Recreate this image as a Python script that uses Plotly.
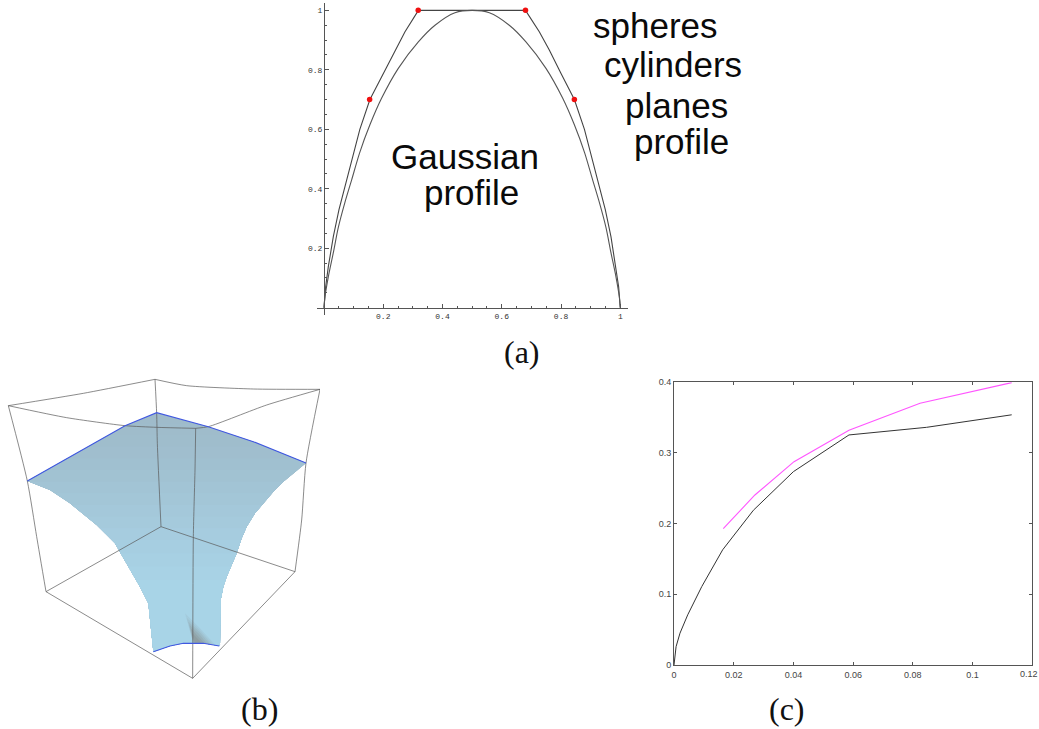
import plotly.graph_objects as go

W, H = 1039, 729

# ---------- panel (a): profiles ----------
a_outer_x = [0, 0.0056, 0.0146, 0.0315, 0.0506, 0.0709, 0.095, 0.121, 0.155, 0.2, 0.2396, 0.2734, 0.3186,
             0.68, 0.7266, 0.7604, 0.8, 0.845, 0.879, 0.905, 0.9291, 0.9494, 0.9685, 0.9854, 0.9944, 1]
a_outer_y = [0, 0.0707, 0.138, 0.239, 0.33, 0.41, 0.5, 0.6, 0.7, 0.788, 0.867, 0.928, 1,
             1, 0.928, 0.867, 0.788, 0.7, 0.6, 0.5, 0.41, 0.33, 0.239, 0.138, 0.0707, 0]
a_inner_x = [0, 0.0034, 0.0146, 0.0315, 0.0484, 0.0709, 0.0934, 0.12, 0.155, 0.1947, 0.2508, 0.3184, 0.3746, 0.442, 0.5,
             0.558, 0.6254, 0.6816, 0.7492, 0.8053, 0.845, 0.88, 0.9066, 0.9291, 0.9516, 0.9685, 0.9854, 0.9966, 1]
a_inner_y = [0, 0.037, 0.104, 0.185, 0.27, 0.355, 0.43, 0.52, 0.615, 0.705, 0.805, 0.894, 0.95, 0.992, 1,
             0.992, 0.95, 0.894, 0.805, 0.705, 0.615, 0.52, 0.43, 0.355, 0.27, 0.185, 0.104, 0.037, 0]
a_point_x = [0.154, 0.318, 0.68, 0.845]
a_point_y = [0.7, 1, 1, 0.7]
a_xticks = [0.2, 0.4, 0.6, 0.8, 1]
a_yticks = [0.2, 0.4, 0.6, 0.8, 1]
a_xticklabels = ["0.2", "0.4", "0.6", "0.8", "1"]
a_yticklabels = ["0.2", "0.4", "0.6", "0.8", "1"]
a_minor = [i * 0.05 for i in range(1, 21)]

# ---------- panel (b): wireframe and surface, in picture units ----------
surface_x = [82, 115, 150, 210, 250, 290, 330, 345, 362, 390, 420, 445, 452, 460, 510, 550, 610, 658, 660, 662, 670, 680,
             695, 710, 725, 740, 765, 790, 820, 850, 885, 918, 760, 625, 470, 375, 220]
surface_y = [333, 345, 360, 400, 432, 465, 505, 520, 550, 600, 650, 700, 770, 845, 828, 820, 820, 828, 828, 690, 650, 620,
             585, 550, 505, 470, 430, 400, 365, 335, 305, 279, 215, 170, 128, 167, 255]
band_y = [128, 160, 195, 230, 265, 300, 335, 370, 405, 440, 475, 510, 550, 590, 630]
band_colors = ["#9fbbca", "#9fbccb", "#9fbdcc", "#a0bece", "#a0c0d0", "#a1c2d2", "#a2c4d5", "#a3c6d7",
               "#a4c8da", "#a5cadc", "#a6ccdf", "#a6cee1", "#a7d0e3", "#a8d2e5", "#a8d4e7"]
smudge = [
    ([555, 580, 645, 600], [730, 820, 824, 775], 0.07),
    ([560, 580, 637, 599], [743, 820, 823, 780], 0.08),
    ([565, 580, 630, 598], [755, 820, 822, 785], 0.1),
    ([569, 581, 620, 595], [765, 819, 820, 790], 0.12),
    ([572, 582, 612, 592], [775, 818, 818, 795], 0.14),
    ([576, 584, 604, 590], [788, 818, 818, 802], 0.14),
]
wire = [
    ([25, 250, 465], [107, 70, 28]),
    ([465, 560, 760, 960], [28, 47, 57, 58]),
    ([25, 200, 375, 470, 587], [107, 143, 167, 172, 175]),
    ([587, 625, 800, 960], [175, 170, 105, 58]),
    ([465, 470, 472, 483], [28, 130, 220, 470]),
    ([587, 585, 580, 578], [175, 300, 500, 925]),
    ([25, 82, 110, 138], [107, 333, 500, 665]),
    ([960, 918, 905, 885], [58, 279, 450, 605]),
    ([483, 138], [470, 665]),
    ([483, 885], [470, 605]),
    ([138, 578], [665, 925]),
    ([885, 578], [605, 925]),
]
blue_top_x = [82, 220, 375, 470, 625, 760, 918]
blue_top_y = [333, 255, 167, 128, 170, 215, 279]
blue_bottom_x = [460, 510, 550, 610, 658]
blue_bottom_y = [845, 828, 820, 820, 828]

# ---------- panel (c): curves ----------
c_black_x = [0, 0.0007, 0.002, 0.0046, 0.0093, 0.0163, 0.0266, 0.04, 0.0586, 0.0846, 0.1131]
c_black_y = [0, 0.026, 0.045, 0.071, 0.111, 0.163, 0.219, 0.2736, 0.3255, 0.3363, 0.354]
c_pink_x = [0.0165, 0.0271, 0.0402, 0.0586, 0.0824, 0.1131]
c_pink_y = [0.193, 0.2406, 0.2877, 0.332, 0.3703, 0.3995]
c_xticks = [0, 0.02, 0.04, 0.06, 0.08, 0.1, 0.12]
c_xticklabels = ["0", "0.02", "0.04", "0.06", "0.08", "0.1", ""]
c_last_label = "0.12"
c_yticks = [0, 0.1, 0.2, 0.3, 0.4]
c_yticklabels = ["0", "0.1", "0.2", "0.3", "0.4"]

# ---------- texts ----------
big_labels = [
    ("spheres", 591, 25), ("cylinders", 602, 64), ("planes", 623, 105), ("profile", 632, 141),
    ("Gaussian", 389, 156), ("profile", 422, 193),
]
captions = [("(a)", 522, 352), ("(b)", 259, 709), ("(c)", 787, 709)]


def fx(p):
    return p / W


def fy(p):
    return 1 - p / H


def clip_below(xs, ys, y0):
    """Part of a closed polygon that lies at or below the level y0 (units grow downwards)."""
    out_x, out_y = [], []
    n = len(xs)
    for i in range(n):
        x1, y1, x2, y2 = xs[i], ys[i], xs[(i + 1) % n], ys[(i + 1) % n]
        if y1 >= y0:
            out_x.append(x1)
            out_y.append(y1)
        if (y1 >= y0) != (y2 >= y0):
            t = (y0 - y1) / (y2 - y1)
            out_x.append(x1 + t * (x2 - x1))
            out_y.append(y0)
    return out_x + out_x[:1], out_y + out_y[:1]


fig = go.Figure()

# (a)
fig.add_trace(go.Scatter(x=a_outer_x, y=a_outer_y, mode="lines", line=dict(color="#444444", width=1.1),
                         xaxis="x", yaxis="y", showlegend=False))
fig.add_trace(go.Scatter(x=a_inner_x, y=a_inner_y, mode="lines",
                         line=dict(color="#555555", width=1.1, shape="spline", smoothing=0.8),
                         xaxis="x", yaxis="y", showlegend=False))
fig.add_trace(go.Scatter(x=a_point_x, y=a_point_y, mode="markers", marker=dict(color="#f01010", size=5.5),
                         xaxis="x", yaxis="y", showlegend=False))

# (b)
for y0, col in zip(band_y, band_colors):
    bx, by = clip_below(surface_x, surface_y, y0)
    fig.add_trace(go.Scatter(x=bx, y=by, mode="lines", fill="toself", fillcolor=col, line=dict(width=0),
                             xaxis="x2", yaxis="y2", showlegend=False, hoverinfo="skip"))
for sx, sy, op in smudge:
    fig.add_trace(go.Scatter(x=sx + sx[:1], y=sy + sy[:1], mode="lines", fill="toself",
                             fillcolor=f"rgba(120,105,100,{op})", line=dict(width=0),
                             xaxis="x2", yaxis="y2", showlegend=False, hoverinfo="skip"))
for wx, wy in wire:
    fig.add_trace(go.Scatter(x=wx, y=wy, mode="lines", line=dict(color="rgba(90,90,90,0.7)", width=1, shape="spline", smoothing=0.6),
                             xaxis="x2", yaxis="y2", showlegend=False, hoverinfo="skip"))
for bx, by in ((blue_top_x, blue_top_y), (blue_bottom_x, blue_bottom_y)):
    fig.add_trace(go.Scatter(x=bx, y=by, mode="lines", line=dict(color="#4058e0", width=1.1),
                             xaxis="x2", yaxis="y2", showlegend=False, hoverinfo="skip"))

# (c)
fig.add_trace(go.Scatter(x=c_black_x, y=c_black_y, mode="lines", line=dict(color="#333333", width=1),
                         xaxis="x3", yaxis="y3", showlegend=False))
fig.add_trace(go.Scatter(x=c_pink_x, y=c_pink_y, mode="lines", line=dict(color="#ff55ff", width=1.1),
                         xaxis="x3", yaxis="y3", showlegend=False))

mono = dict(family="Liberation Mono", size=8, color="#333333")
sans = dict(family="Liberation Sans", size=9, color="#444444")
annotations = [
    dict(text=t, x=fx(px), y=fy(py), xref="paper", yref="paper", xanchor="left", yanchor="middle", showarrow=False,
         font=dict(family="Liberation Sans", size=35, color="#0a0a0a"))
    for t, px, py in big_labels
] + [
    dict(text=t, x=fx(px), y=fy(py), xref="paper", yref="paper", xanchor="center", yanchor="middle", showarrow=False,
         font=dict(family="Liberation Serif", size=32, color="#111111"))
    for t, px, py in captions
] + [
    dict(text=c_last_label, x=1, y=fy(674), xref="paper", yref="paper", xanchor="right", yanchor="middle",
         showarrow=False, font=sans, borderpad=0)
]

fig.update_layout(
    width=W, height=H, margin=dict(l=0, r=0, t=0, b=0), paper_bgcolor="white", plot_bgcolor="rgba(0,0,0,0)",
    showlegend=False, annotations=annotations,
    xaxis=dict(domain=[fx(316.7), fx(628)], range=[-0.0246, 1.0260], anchor="free", position=fy(307.7), automargin=False,
               tickmode="array", tickvals=a_xticks, ticktext=a_xticklabels, ticks="inside", ticklen=4, tickcolor="#555555",
               tickfont=mono, ticklabelstandoff=1, showgrid=False, zeroline=False, showline=True, linecolor="#555555", linewidth=1,
               minor=dict(tickmode="array", tickvals=a_minor, ticks="inside", ticklen=2, tickcolor="#555555", showgrid=False)),
    yaxis=dict(domain=[fy(315), fy(3)], range=[-0.0245, 1.0247], anchor="free", position=fx(324), automargin=False,
               tickmode="array", tickvals=a_yticks, ticktext=a_yticklabels, ticks="inside", ticklen=4, tickcolor="#555555",
               tickfont=mono, showgrid=False, zeroline=False, showline=True, linecolor="#555555", linewidth=1,
               minor=dict(tickmode="array", tickvals=a_minor, ticks="inside", ticklen=2, tickcolor="#555555", showgrid=False)),
    xaxis2=dict(domain=[fx(0), fx(320)], range=[0, 960], anchor="y2", visible=False, automargin=False),
    yaxis2=dict(domain=[fy(720), fy(370)], range=[1050, 0], anchor="x2", visible=False, automargin=False),
    xaxis3=dict(domain=[fx(674), fx(1032.3)], range=[0, 0.12], anchor="y3", automargin=False, ticklabeloverflow="allow",
                tickmode="array", tickvals=c_xticks, ticktext=c_xticklabels, ticks="inside", ticklen=3, tickcolor="#555555",
                tickfont=sans, ticklabelstandoff=1, showgrid=False, zeroline=False, showline=True, linecolor="#555555", linewidth=1, mirror="allticks"),
    yaxis3=dict(domain=[fy(665), fy(382.3)], range=[0, 0.4], anchor="x3", automargin=False,
                tickmode="array", tickvals=c_yticks, ticktext=c_yticklabels, ticks="inside", ticklen=3, tickcolor="#555555",
                tickfont=sans, showgrid=False, zeroline=False, showline=True, linecolor="#555555", linewidth=1, mirror="allticks"),
)

fig.write_html("out.html", post_script="document.body.style.margin='0';", config=dict(displayModeBar=False))
